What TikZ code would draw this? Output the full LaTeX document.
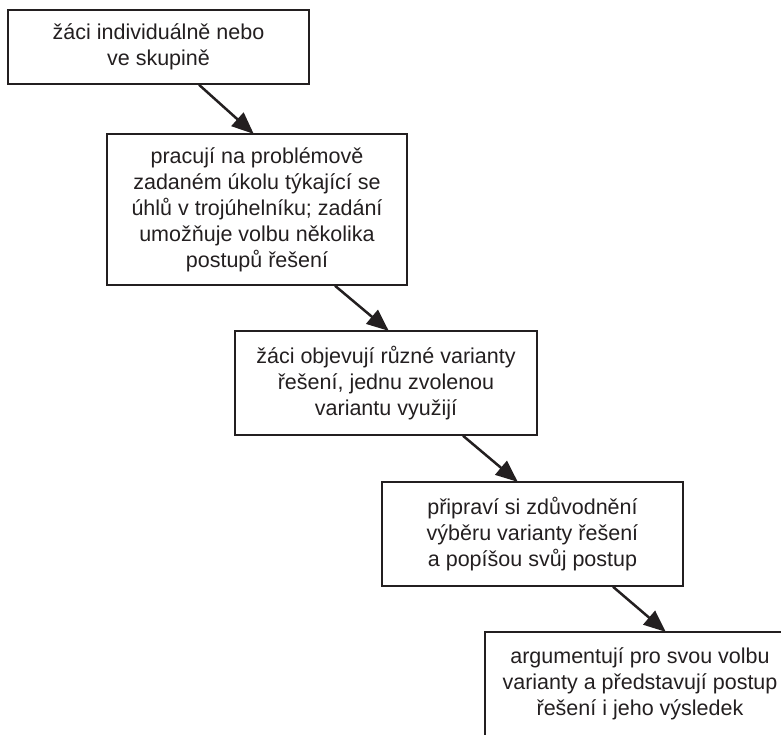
\documentclass[tikz,border=0pt]{standalone}
\usepackage{fontspec}
\setmainfont{Liberation Sans}
\usetikzlibrary{arrows.meta,calc}
\definecolor{ink}{HTML}{231F20}
\begin{document}
\begin{tikzpicture}[x=1pt,y=1pt,
  box/.style={draw=ink,line width=1.5pt,rectangle,align=center,inner sep=0pt,
    text=ink,font=\fontsize{21.5}{26}\selectfont},
  arr/.style={draw=ink,line width=2.5pt,-{Triangle[length=22pt,width=18pt]},shorten >=-1pt}]
\clip (0,0) rectangle (781,734);
\useasboundingbox (0,0) rectangle (781,734);
\node[box,minimum width=301pt,minimum height=74pt] (b1) at (158.5,687)
  {žáci individuálně nebo\\ve skupině};
\node[box,minimum width=300pt,minimum height=151pt] (b2) at (257,524.5)
  {pracují na problémově\\zadaném úkolu týkající se\\úhlů v trojúhelníku; zadání\\umožňuje volbu několika\\postupů řešení};
\node[box,minimum width=302pt,minimum height=104pt] (b3) at (386,351)
  {žáci objevují různé varianty\\řešení, jednu zvolenou\\variantu využijí};
\node[box,minimum width=301pt,minimum height=104pt] (b4) at (532.5,200)
  {připraví si zdůvodnění\\výběru varianty řešení\\a popíšou svůj postup};
\node[box,minimum width=310pt,minimum height=104pt] (b5) at (640,50)
  {argumentují pro svou volbu\\varianty a představují postup\\řešení i jeho výsledek};
\draw[arr] ($(b1.south)+(40.5,0)$) -- ($(b2.north)+(-4,0)$);
\draw[arr] ($(b2.south)+(78,0)$) -- ($(b3.north)+(2,0)$);
\draw[arr] ($(b3.south)+(77,0)$) -- ($(b4.north)+(-15.5,0)$);
\draw[arr] ($(b4.south)+(80.5,0)$) -- ($(b5.north)+(25,0)$);
\end{tikzpicture}
\end{document}
